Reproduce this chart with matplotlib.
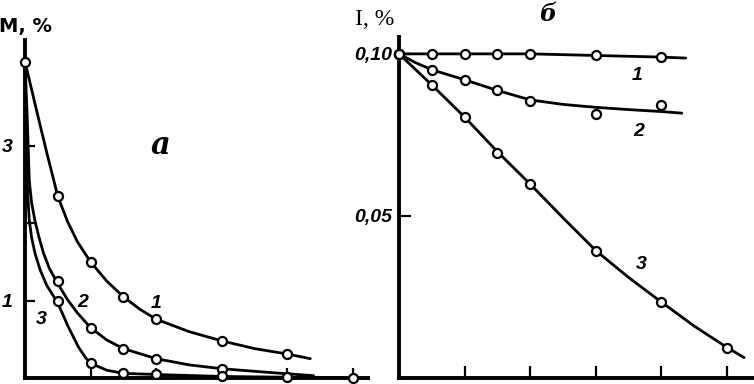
import numpy as np
from matplotlib import pyplot as plt

# --- panel a: M, % vs x (points and drawn curves)
a_x_pts = [0, 1, 2, 3, 4, 6, 8]
a1_pts = [4.09, 2.35, 1.50, 1.05, 0.76, 0.48, 0.31]
a2_x_pts = [1, 2, 3, 4, 6]
a2_pts = [1.25, 0.65, 0.38, 0.25, 0.12]
a3_x_pts = [1, 2, 3, 4, 6, 8, 10]
a3_pts = [1.00, 0.19, 0.06, 0.05, 0.02, 0.01, 0.0]

a1_line_x = [0, 0.33, 0.66, 1.0, 1.3, 1.6, 2.0, 2.5, 3.0, 3.5, 4.0, 5.0, 6.0, 7.0, 8.0, 8.7]
a1_line_y = [4.09, 3.50, 2.92, 2.35, 2.02, 1.76, 1.50, 1.25, 1.05, 0.89, 0.76, 0.60, 0.48, 0.38, 0.31, 0.25]
a2_line_x = [0, 0.07, 0.13, 0.2, 0.3, 0.42, 0.56, 0.74, 1.0, 1.3, 1.6, 2.0, 2.5, 3.0, 4.0, 5.0, 6.0, 7.5, 8.8]
a2_line_y = [4.09, 3.34, 2.55, 2.27, 2.04, 1.83, 1.62, 1.42, 1.22, 1.01, 0.84, 0.65, 0.49, 0.38, 0.25, 0.17, 0.12, 0.07, 0.03]
a3_line_x = [0, 0.04, 0.08, 0.13, 0.2, 0.3, 0.46, 0.66, 1.0, 1.3, 1.63, 1.85, 2.0, 2.5, 3.0, 4.0, 6.0, 8.0, 10.0, 10.4]
a3_line_y = [4.09, 3.08, 2.40, 2.04, 1.82, 1.62, 1.40, 1.20, 0.97, 0.68, 0.40, 0.26, 0.19, 0.10, 0.06, 0.045, 0.02, 0.01, 0.0, 0.0]

# --- panel б: I, % vs x
b_x_pts = [0, 0.5, 1, 1.5, 2, 3, 4]
b1_pts = [0.100, 0.100, 0.100, 0.100, 0.100, 0.0995, 0.0990]
b2_pts = [0.100, 0.0951, 0.0920, 0.0887, 0.0856, 0.0813, 0.0843]
b3_x_pts = [0, 0.5, 1, 1.5, 2, 3, 4, 5]
b3_pts = [0.100, 0.0904, 0.0805, 0.0694, 0.0598, 0.0393, 0.0234, 0.0094]

b1_line_x = [0, 1, 2, 3, 4, 4.37]
b1_line_y = [0.100, 0.100, 0.100, 0.0995, 0.0990, 0.0987]
b2_line_x = [0, 0.25, 0.5, 1, 1.5, 2, 2.5, 3, 3.5, 4, 4.31]
b2_line_y = [0.100, 0.0973, 0.0951, 0.0920, 0.0887, 0.0858, 0.0844, 0.0835, 0.0828, 0.0822, 0.0817]
b3_line_x = [0, 0.5, 1, 1.5, 2, 2.5, 3, 3.5, 4, 4.5, 5, 5.26]
b3_line_y = [0.100, 0.0904, 0.0805, 0.0698, 0.0598, 0.0494, 0.0393, 0.0310, 0.0234, 0.0160, 0.0094, 0.0063]

num_font = ["Liberation Sans", "DejaVu Sans"]
num_kw = dict(fontsize=14, fontstyle="italic", fontweight="bold", family=num_font,
              ha="center", va="center")

fig = plt.figure(figsize=(7.54, 3.84), dpi=100)
W, H = 754.0, 384.0
ax1 = fig.add_axes([25 / W, 6 / H, 343 / W, 338 / H])
ax2 = fig.add_axes([399 / W, 6 / H, 355 / W, 341 / H])

line_kw = dict(color="black", lw=2.0, solid_capstyle="round", solid_joinstyle="round")
mk_kw = dict(ls="none", marker="o", ms=6.5, mfc="white", mec="black", mew=1.6,
             clip_on=False, zorder=5)

for ax in (ax1, ax2):
    for s in ("top", "right"):
        ax.spines[s].set_visible(False)
    for s in ("left", "bottom"):
        ax.spines[s].set_linewidth(2.8)
    ax.patch.set_alpha(0)

# panel a
ax1.plot(a1_line_x, a1_line_y, **line_kw)
ax1.plot(a2_line_x, a2_line_y, **line_kw)
ax1.plot(a3_line_x, a3_line_y, **line_kw)
ax1.plot(a_x_pts, a1_pts, **mk_kw)
ax1.plot(a2_x_pts, a2_pts, **mk_kw)
ax1.plot(a3_x_pts, a3_pts, **mk_kw)
ax1.set_xlim(0, 10.46)
ax1.set_ylim(0, 4.37)
ax1.set_xticks([2, 4, 6, 8, 10])
ax1.set_xticklabels([])
ax1.set_yticks([1, 2, 3])
ax1.set_yticklabels(["1", "", "3"], fontstyle="italic", fontweight="bold",
                    family=num_font, fontsize=14)
ax1.tick_params(axis="both", direction="in", length=7, width=1.6, pad=9)

ax1.text(0.03, 4.55, "M, %", fontsize=14, fontweight="bold", ha="center",
         va="center", clip_on=False)
ax1.text(4.12, 3.0, "a", fontsize=22, fontstyle="italic", fontweight="bold",
         family="DejaVu Serif", ha="center", va="center")
ax1.text(4.0, 0.96, "1", **num_kw)
ax1.text(1.77, 0.98, "2", **num_kw)
ax1.text(0.49, 0.76, "3", **num_kw)

# panel б
ax2.plot(b1_line_x, b1_line_y, **line_kw)
ax2.plot(b2_line_x, b2_line_y, **line_kw)
ax2.plot(b3_line_x, b3_line_y, **line_kw)
ax2.plot(b_x_pts, b1_pts, **mk_kw)
ax2.plot(b_x_pts, b2_pts, **mk_kw)
ax2.plot(b3_x_pts, b3_pts, **mk_kw)
ax2.set_xlim(0, 5.41)
ax2.set_ylim(0, 0.1052)
ax2.set_xticks([1, 2, 3, 4, 5])
ax2.set_xticklabels([])
ax2.set_yticks([0.05, 0.10])
ax2.set_yticklabels(["0,05", "0,10"], fontstyle="italic", fontweight="bold",
                    family=num_font, fontsize=14)
ax2.tick_params(axis="both", direction="in", length=8.5, width=1.6, pad=5)

ax2.text(-0.37, 0.1105, "I, %", fontsize=17, family="Liberation Serif",
         ha="center", va="center", clip_on=False)
ax2.text(2.27, 0.1123, "б", fontsize=17, fontstyle="italic", family="DejaVu Serif",
         fontweight="bold", ha="center", va="center", clip_on=False)
ax2.text(3.63, 0.0932, "1", **num_kw)
ax2.text(3.66, 0.0759, "2", **num_kw)
ax2.text(3.69, 0.0349, "3", **num_kw)

fig.savefig("out.png", dpi=100)
